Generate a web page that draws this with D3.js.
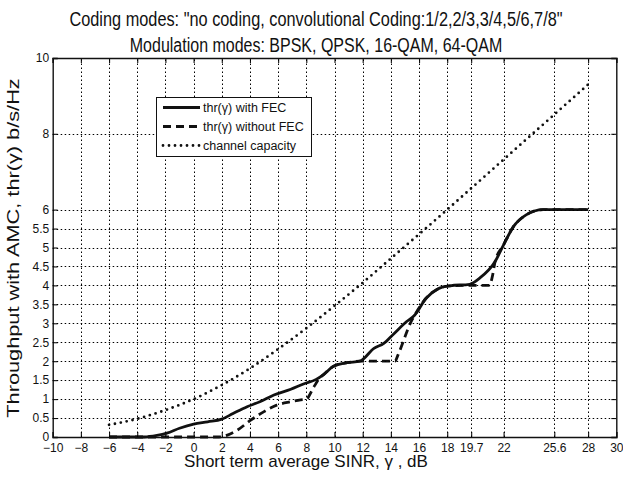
<!DOCTYPE html>
<html>
<head>
<meta charset="utf-8">
<script src="https://cdn.jsdelivr.net/npm/d3@7"></script>
</head>
<body style="margin:0">
<svg id="chart" width="623" height="478" style="font-family: 'Liberation Sans', Arial, sans-serif"></svg>
<script>
// Throughput vs. SINR: adaptive modulation & coding, with and without FEC, and Shannon capacity

const xTicks = [-10, -8, -6, -4, -2, 0, 2, 4, 6, 8, 10, 12, 14, 16, 18, 19.7, 22, 25.6, 28, 30];
const yTicks = [0, 0.5, 1, 1.5, 2, 2.5, 3, 3.5, 4, 4.5, 5, 5.5, 6, 8, 10];

// thr(γ) with FEC
const fecX = [-6, -3.5, -2.6, -1.9, -1, 0, 1, 2, 2.8, 3.8, 4.7, 5.7, 6.9, 7.8, 8.7, 9.2, 9.9, 10.9, 11.8,
              12.8, 13.5, 14.2, 15.1, 15.7, 16.5, 17.3, 18.2, 19.6, 20.3, 21.4, 22.0, 22.7, 23.6, 24.8, 28];
const fecY = [0, 0, 0.04, 0.1, 0.23, 0.34, 0.4, 0.47, 0.62, 0.8, 0.93, 1.11, 1.26, 1.4, 1.52, 1.64, 1.86, 1.96, 2.0,
              2.34, 2.47, 2.72, 3.04, 3.22, 3.66, 3.9, 3.99, 4.03, 4.19, 4.63, 5.07, 5.55, 5.86, 6.0, 6.0];

// thr(γ) without FEC
const noFecX = [-6, 1.8, 2.4, 3.1, 4.0, 5.0, 5.9, 6.9, 7.6, 8.0, 8.5, 9.0, 9.2, 9.9, 10.9, 11.8,
                14.3, 14.5, 15.5, 15.7, 16.5, 17.3, 18.2, 19.6, 21.0, 21.2, 21.4, 22.0, 22.7, 23.6, 24.8, 28];
const noFecY = [0, 0, 0.05, 0.18, 0.43, 0.67, 0.84, 0.93, 0.98, 1.0, 1.3, 1.58, 1.64, 1.86, 1.96, 2.0,
                2.0, 2.16, 3.09, 3.22, 3.66, 3.9, 3.99, 4.0, 4.0, 4.23, 4.63, 5.07, 5.55, 5.86, 6.0, 6.0];

// channel capacity
const capX = [-6, -4, -2, 0, 2, 4, 6, 8, 10, 12, 14, 16, 18, 20, 22, 24, 26, 28];
const capY = [0.32, 0.48, 0.71, 1.0, 1.37, 1.81, 2.32, 2.87, 3.46, 4.07, 4.71, 5.35, 6.0, 6.66, 7.32, 7.98, 8.64, 9.3];

const seriesNames = ["thr(γ) with FEC", "thr(γ) without FEC", "channel capacity"];

const svg = d3.select("#chart");
const x = d3.scaleLinear().domain([-10, 30]).range([52.7, 616.3]);
const y = d3.scaleLinear().domain([0, 10]).range([437, 58]);
const [xa, xb] = x.range();
const [ya, yb] = y.range();
const px = v => Math.round(v) + 0.5;

const fmt = d => (d < 0 ? "\u2212" : "") + String(Math.abs(d));

// axes (inner ticks on all four sides)
const tickLen = 5;
const axB = svg.append("g").attr("transform", `translate(0,${ya})`)
  .call(d3.axisBottom(x).tickValues(xTicks).tickSize(-tickLen).tickPadding(6).tickFormat(fmt));
const axT = svg.append("g").attr("transform", `translate(0,${yb})`)
  .call(d3.axisTop(x).tickValues(xTicks).tickSize(-tickLen).tickFormat(""));
const axL = svg.append("g").attr("transform", `translate(${xa},0)`)
  .call(d3.axisLeft(y).tickValues(yTicks).tickSize(-tickLen).tickPadding(3.5).tickFormat(fmt));
const axR = svg.append("g").attr("transform", `translate(${xb},0)`)
  .call(d3.axisRight(y).tickValues(yTicks).tickSize(-tickLen).tickFormat(""));

[axB, axT, axL, axR].forEach(a => {
  a.select(".domain").attr("stroke", "#111").attr("stroke-width", 1.4).attr("fill", "none");
  a.selectAll(".tick line").attr("stroke", "#111").attr("stroke-width", 1.1);
  a.selectAll("text").attr("fill", "#111").attr("font-size", 12).attr("font-family", "Liberation Sans, Arial, sans-serif");
});

// series
const mk = (xs, ys) => xs.map((v, i) => [v, ys[i]]);
const lineGen = d3.line().x(d => x(d[0])).y(d => y(d[1])).curve(d3.curveMonotoneX);

svg.append("path").datum(mk(capX, capY))
  .attr("d", lineGen).attr("fill", "none").attr("stroke", "#111")
  .attr("stroke-width", 2.8).attr("stroke-linecap", "round").attr("stroke-dasharray", "0,6");

svg.append("path").datum(mk(noFecX, noFecY))
  .attr("d", lineGen).attr("fill", "none").attr("stroke", "#111")
  .attr("stroke-width", 2.8).attr("stroke-dasharray", "8,5");

svg.append("path").datum(mk(fecX, fecY))
  .attr("d", lineGen).attr("fill", "none").attr("stroke", "#111")
  .attr("stroke-width", 2.8).attr("stroke-linejoin", "round");

// dotted grid (thin dots, kept under the legend box)
const gridG = svg.append("g");
gridG.selectAll("line.gx").data(xTicks.slice(1, -1)).enter().append("line").attr("class", "gx")
  .attr("x1", d => px(x(d))).attr("x2", d => px(x(d))).attr("y1", ya).attr("y2", yb)
  .attr("stroke", "#000").attr("stroke-width", 1).attr("stroke-dasharray", "1.5,2.5");
gridG.selectAll("line.gy").data(yTicks.slice(1, -1)).enter().append("line").attr("class", "gy")
  .attr("y1", d => px(y(d))).attr("y2", d => px(y(d))).attr("x1", xa).attr("x2", xb)
  .attr("stroke", "#000").attr("stroke-width", 1).attr("stroke-dasharray", "1.5,2.5");

// legend
const lg = svg.append("g");
lg.append("rect").attr("x", 156.5).attr("y", 97.5).attr("width", 155).attr("height", 59)
  .attr("fill", "#fff").attr("stroke", "#111").attr("stroke-width", 1);
const styles = [
  { w: 2.8, dash: null, cap: "butt" },
  { w: 2.8, dash: "8,5", cap: "butt" },
  { w: 2.8, dash: "0,6", cap: "round" }
];
const rowY = [107.5, 126.5, 145.5];
seriesNames.forEach((name, i) => {
  const ln = lg.append("line").attr("x1", 163).attr("x2", 200).attr("y1", rowY[i]).attr("y2", rowY[i])
    .attr("stroke", "#111").attr("stroke-width", styles[i].w).attr("stroke-linecap", styles[i].cap);
  if (styles[i].dash) ln.attr("stroke-dasharray", styles[i].dash);
  lg.append("text").attr("x", 203).attr("y", rowY[i]).attr("dy", "0.35em")
    .attr("font-size", 12.5).attr("fill", "#111").text(name);
});

// titles and axis labels
svg.append("text").attr("transform", "translate(316,26) scale(1.02,1.3)").attr("text-anchor", "middle")
  .attr("font-size", 16).attr("fill", "#111")
  .text("Coding modes: \"no coding, convolutional Coding:1/2,2/3,3/4,5/6,7/8\"");
svg.append("text").attr("transform", "translate(316,52) scale(1,1.3)").attr("text-anchor", "middle")
  .attr("font-size", 16).attr("fill", "#111")
  .text("Modulation modes: BPSK, QPSK, 16-QAM, 64-QAM");
svg.append("text").attr("x", 306).attr("y", 467).attr("text-anchor", "middle")
  .attr("font-size", 17).attr("fill", "#111")
  .text("Short term average SINR, γ , dB");
svg.append("text").attr("transform", "translate(19,248) rotate(-90) scale(1.36,1)").attr("text-anchor", "middle")
  .attr("font-size", 16).attr("fill", "#111")
  .text("Throughput with AMC, thr(γ) b/s/Hz");
</script>
</body>
</html>
